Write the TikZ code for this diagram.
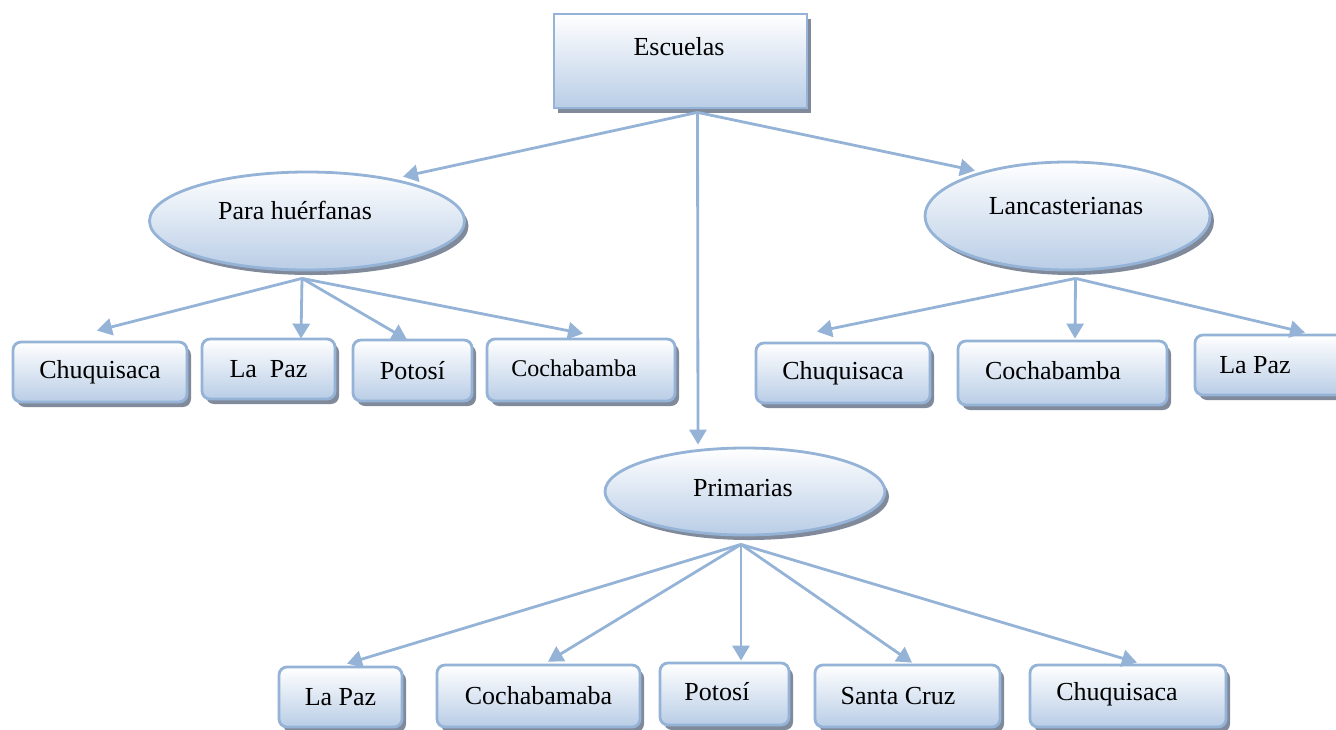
\documentclass[tikz,border=0pt]{standalone}
\usepackage{fontspec}
\setmainfont{Liberation Serif}
\usetikzlibrary{arrows.meta,shapes.geometric,shadows,calc}
\definecolor{lineblue}{RGB}{148,179,215}
\definecolor{fillblue}{RGB}{185,205,230}
\definecolor{shadowgray}{RGB}{128,138,154}

\begin{document}
\begin{tikzpicture}[x=1pt, y=-1pt,
    base/.style = {draw=lineblue, line width=2.8pt, top color=white, bottom color=fillblue,
        drop shadow={shadow xshift=4pt, shadow yshift=-5pt, fill=shadowgray, opacity=1},
        inner sep=0pt, font=\fontsize{26}{30}\selectfont},
    box/.style = {base, rectangle, rounded corners=8pt},
    oval/.style = {base, ellipse},
    lbl/.style = {font=\fontsize{26}{30}\selectfont, inner sep=0pt},
    link/.style = {draw=lineblue, line width=2.8pt, -{Triangle[length=15pt, width=17pt]}}]
    \useasboundingbox (0,0) rectangle (1336,729);
    \clip (0,0) rectangle (1336,729);

    \node[box, sharp corners, minimum width=253, minimum height=94,
        label={[lbl, xshift=-1.5pt, yshift=14pt]center:Escuelas}] (esc) at (680.5,61) {};

    \node[oval, minimum width=315, minimum height=98,
        label={[lbl, xshift=-12pt, yshift=11pt]center:Para huérfanas}] (ph) at (307,221) {};
    \draw[link] ($(esc.south)+(17,3)$) -- ($(ph.north)+(96,6)$);

    \node[oval, minimum width=285, minimum height=108,
        label={[lbl, xshift=-1.5pt, yshift=10pt]center:Lancasterianas}] (lan) at (1067.5,216) {};
    \draw[link] ($(esc.south)+(17,3)$) -- ($(lan.north)+(-92.5,10)$);

    \node[oval, minimum width=280, minimum height=87,
        label={[lbl, xshift=-2pt, yshift=3pt]center:Primarias}] (pri) at (745,491.5) {};
    \draw[link] ($(esc.south)+(17,3)$) -- ($(pri.north)+(-47,-2)$);

    % para huerfanas
    \node[box, minimum width=174, minimum height=60] (hc) at (100,372) {Chuquisaca};
    \node[box, minimum width=133, minimum height=60] (hl) at (268.5,369) {La\ \ Paz};
    \node[box, minimum width=119, minimum height=61] (hp) at (412.5,370.5) {Potosí};
    \node[box, minimum width=188, minimum height=62,
        label={[lbl, font=\fontsize{24}{28}\selectfont, xshift=-7pt, yshift=2pt]center:Cochabamba}] (hcb) at (581,370) {};
    \draw[link] ($(ph.south)+(-5,7)$) -- ($(hc.north)+(-3,-10)$);
    \draw[link] ($(ph.south)+(-5,7)$) -- ($(hl.north)+(32.5,1)$);
    \draw[link] ($(ph.south)+(-5,7)$) -- ($(hp.north)+(-5.5,1)$);
    \draw[link] ($(ph.south)+(-5,7)$) -- ($(hcb.north)+(2,-4)$);

    % lancasterianas
    \node[box, minimum width=174, minimum height=60] (lc) at (843,373) {Chuquisaca};
    \node[box, minimum width=209, minimum height=64,
        label={[lbl, xshift=-9.5pt, yshift=2pt]center:Cochabamba}] (lcb) at (1062.5,373) {};
    \node[box, minimum width=150, minimum height=60,
        label={[lbl, xshift=-15pt]center:La Paz}] (ll) at (1270,365) {};
    \draw[link] ($(lan.south)+(8,7)$) -- ($(lc.north)+(-26,-10)$);
    \draw[link] ($(lan.south)+(8,7)$) -- ($(lcb.north)+(12.5,-1)$);
    \draw[link] ($(lan.south)+(8,7)$) -- ($(ll.north)+(35,-1)$);

    % primarias
    \node[box, minimum width=123, minimum height=60] (pl) at (340.5,697) {La Paz};
    \node[box, minimum width=203, minimum height=62] (pc) at (538.5,696) {Cochabamaba};
    \node[box, minimum width=129, minimum height=62,
        label={[lbl, xshift=-7.5pt, yshift=2pt]center:Potosí}] (pp) at (724.5,694) {};
    \node[box, minimum width=185, minimum height=62,
        label={[lbl, xshift=-9.5pt]center:Santa Cruz}] (ps) at (907.5,696) {};
    \node[box, minimum width=196, minimum height=62,
        label={[lbl, xshift=-11pt, yshift=2pt]center:Chuquisaca}] (pq) at (1128,696) {};
    \draw[link] ($(pri.south)+(-4,8)$) -- ($(pl.north)+(6.5,-2)$);
    \draw[link] ($(pri.south)+(-4,8)$) -- ($(pc.north)+(9.5,-2)$);
    \draw[link] ($(pri.south)+(-4,8)$) -- ($(pp.north)+(16.5,-1)$);
    \draw[link] ($(pri.south)+(-4,8)$) -- ($(ps.north)+(4.5,-1)$);
    \draw[link] ($(pri.south)+(-4,8)$) -- ($(pq.north)+(9,-1)$);
\end{tikzpicture}
\end{document}
